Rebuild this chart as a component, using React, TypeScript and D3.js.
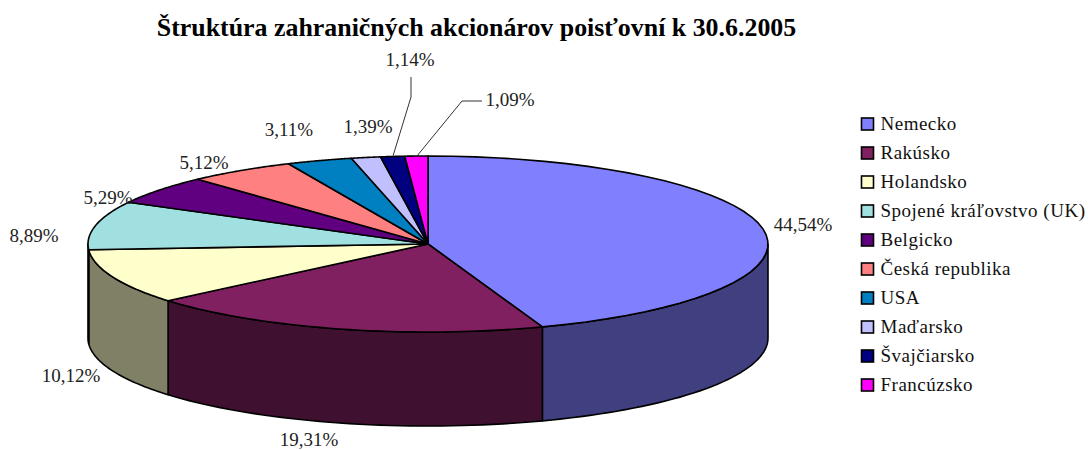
import React from "react";
import * as d3 from "d3";

const categories = ["Nemecko","Rakúsko","Holandsko","Spojené kráľovstvo (UK)","Belgicko","Česká republika","USA","Maďarsko","Švajčiarsko","Francúzsko"];
const values = [44.54,19.31,10.12,8.89,5.29,5.12,3.11,1.39,1.14,1.09];
const labels = ["44,54%","19,31%","10,12%","8,89%","5,29%","5,12%","3,11%","1,39%","1,14%","1,09%"];
const colors = ["#8080FF","#802060","#FFFFCC","#A0E0E0","#600080","#FF8080","#0080C0","#C0C0FF","#000080","#FF00FF"];
const labelX = [803,309,71,34,108,204,289,368,410,510];
const labelY = [225,440,376,236,198,163,130,127,60,100];
const title = "Štruktúra zahraničných akcionárov poisťovní k 30.6.2005";

const cx = 428, cy = 244, rx = 340, ry = 88, depth = 94;
const sx = d3.scaleLinear().domain([-1,1]).range([cx-rx,cx+rx]);
const sy = d3.scaleLinear().domain([-1,1]).range([cy-ry,cy+ry]);
const legendY = d3.scaleLinear().domain([0,9]).range([124,385]);
const line = d3.line<[number,number]>();
const pie = d3.pie<number>().sort(null)(values);
const pt = (a:number,dy=0):[number,number] => [sx(Math.sin(a)), sy(-Math.cos(a))+dy];
const samples = (a0:number,a1:number) => d3.range(0,41).map(i=>a0+(a1-a0)*i/40);

const topPath = (a0:number,a1:number) => line([[cx,cy],...samples(a0,a1).map(a=>pt(a))])+"Z";
const sidePath = (a0:number,a1:number) => {
  const s = Math.max(a0,Math.PI/2), e = Math.min(a1,Math.PI*1.5);
  if (e<=s) return null;
  const ss = samples(s,e);
  return line([...ss.map(a=>pt(a)),...ss.slice().reverse().map(a=>pt(a,depth))])+"Z";
};
const shade = (c:string) => { const r = d3.rgb(c); return d3.rgb(r.r/2,r.g/2,r.b/2).formatHex(); };
const leader1 = line([[411,77],[411,97],[393,156]]);
const leader2 = line([[482,101],[462,101],[417,156]]);

export default function App(){
  return (
    <svg width={1088} height={450} style={{position:"absolute",left:0,top:0,background:"#fff"}} fontFamily="'Liberation Serif'">
      <text x={476.5} y={36} textAnchor="middle" fontSize={25.9} fontWeight="bold" fill="#000">{title}</text>
      {pie.map((d,i)=>{const p=sidePath(d.startAngle,d.endAngle);return p?<path key={i} d={p} fill={shade(colors[i])} stroke="#000" strokeWidth={1.6} strokeLinejoin="round"/>:null;})}
      {pie.map((d,i)=><path key={i} d={topPath(d.startAngle,d.endAngle)} fill={colors[i]} stroke="#000" strokeWidth={1.6} strokeLinejoin="round"/>)}
      <path d={leader1||""} fill="none" stroke="#333" strokeWidth={1}/>
      <path d={leader2||""} fill="none" stroke="#333" strokeWidth={1}/>
      {labels.map((l,i)=><text key={i} x={labelX[i]} y={labelY[i]+6} textAnchor="middle" fontSize={19} fill="#222">{l}</text>)}
      {categories.map((c,i)=><g key={i}>
        <rect x={861.5} y={legendY(i)-6} width={12} height={12} fill={colors[i]} stroke="#000" strokeWidth={1.6}/>
        <text x={880.5} y={legendY(i)+6} fontSize={19} letterSpacing={0.5} fill="#111">{c}</text>
      </g>)}
    </svg>
  );
}
